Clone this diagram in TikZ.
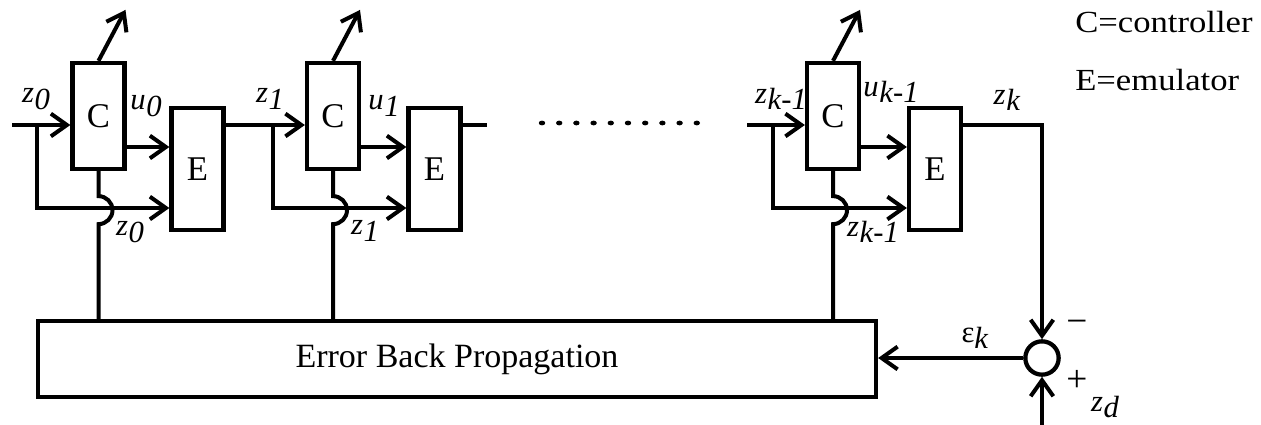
\documentclass[tikz,border=0pt]{standalone}
\usepackage{fontspec}
\setmainfont{Liberation Serif}
\usetikzlibrary{arrows.meta}

% italic symbol with a lowered, same-size index
\newcommand{\idx}[2]{\textit{#1}\kern0.5pt\raisebox{-0.2em}{\textit{#2}}}

\begin{document}
\begin{tikzpicture}[x=0.75pt,y=-0.75pt,
  wire/.style={line width=3pt},
  arr/.style={wire,-{Straight Barb[length=12pt,width=17pt]}},
  ctrlbox/.style={draw,line width=3.2pt,minimum width=39pt,minimum height=79.5pt,
    inner sep=0pt,font=\fontsize{26}{26}\selectfont},
  emubox/.style={draw,line width=3.2pt,minimum width=39pt,minimum height=91.5pt,
    inner sep=0pt,font=\fontsize{26}{26}\selectfont},
  lbl/.style={inner sep=0pt,font=\fontsize{23}{23}\selectfont},
  sign/.style={inner sep=0pt,font=\fontsize{28}{28}\selectfont},
  legend/.style={inner sep=0pt,anchor=base west,font=\fontsize{23}{23}\selectfont},
]
\useasboundingbox (0,0) rectangle (1261,425);

% controller / emulator stages
\node[ctrlbox] (C1) at (98.5,116) {C};
\node[emubox]  (E1) at (197.5,169) {E};
\node[ctrlbox] (C2) at (333,116) {C};
\node[emubox]  (E2) at (434.5,169) {E};
\node[ctrlbox] (C3) at (833,116) {C};
\node[emubox]  (E3) at (935,169) {E};

% training block and summing junction
\node[draw,line width=3.2pt,minimum width=628.5pt,minimum height=57pt,inner sep=0pt,
  font=\fontsize{25.5}{25.5}\selectfont] (EBP) at (457,359) {Error Back Propagation};
\node[draw,circle,line width=3.2pt,minimum size=25pt,inner sep=0pt] (sum) at (1042,358) {};

% signal levels and free ends
\coordinate (in1) at (12,125);
\coordinate (s1) at (37,125);
\coordinate (s2) at (273,125);
\coordinate (s3) at (773,125);
\coordinate (in3) at (747,125);
\coordinate (stub) at (487,125);
\coordinate (uy) at (0,147);
\coordinate (zy) at (0,208);
\coordinate (zd) at (1042,425);

% stage inputs
\draw[arr] (in1) -- (in1 -| C1.west);
\draw[arr] (E1.east |- s2) -- (s2 -| C2.west);
\draw[arr] (in3) -- (in3 -| C3.west);

% state fed forward to the emulators
\draw[arr] (s1) -- (s1 |- zy) -- (zy -| E1.west);
\draw[arr] (s2) -- (s2 |- zy) -- (zy -| E2.west);
\draw[arr] (s3) -- (s3 |- zy) -- (zy -| E3.west);

% control signals
\draw[arr] (C1.east |- uy) -- (uy -| E1.west);
\draw[arr] (C2.east |- uy) -- (uy -| E2.west);
\draw[arr] (C3.east |- uy) -- (uy -| E3.west);

% weight updates leaving the controllers
\draw[arr] (C1.north) -- ++(27,-51);
\draw[arr] (C2.north) -- ++(27,-51);
\draw[arr] (C3.north) -- ++(27,-51);

% back-propagation lines, hopping over the state lines
\foreach \c in {C1,C2,C3}{
  \draw[wire] (\c.south) -- ++(0,25) arc[start angle=90,end angle=-90,radius=10.5pt]
    -- (\c.south |- EBP.north);
}

% outputs
\draw[wire] (E2.east |- s2) -- (stub);
\draw[arr] (E3.east |- s3) -| (sum.north);
\draw[arr] (zd) -- (sum.south);
\draw[arr] (sum.west) -- (sum.west -| EBP.east);

% omitted stages
\foreach \i in {0,...,9}
  \fill (542+17.2*\i,123) ellipse[x radius=2.4pt,y radius=1.8pt];

% signal labels
\node[lbl] at (36,99)  {\idx{z}{0}};
\node[lbl] at (146,106) {\idx{u}{0}};
\node[lbl] at (130,232) {\idx{z}{0}};
\node[lbl] at (270,99) {\idx{z}{1}};
\node[lbl] at (384,106) {\idx{u}{1}};
\node[lbl] at (365,231) {\idx{z}{1}};
\node[lbl] at (781,99) {\idx{z}{k-1}};
\node[lbl] at (891,92) {\idx{u}{k-1}};
\node[lbl] at (873,232) {\idx{z}{k-1}};
\node[lbl] at (1007,100) {\idx{z}{k}};
\node[lbl] at (975,338) {ε\raisebox{-0.2em}{\textit{k}}};
\node[lbl] at (1105,407) {\idx{z}{d}};
\node[sign] at (1077,327) {−};
\node[sign] at (1077,381) {+};

% legend
\node[legend] at (1075,32) {\scalebox{1.13}[1]{C=controller}};
\node[legend] at (1075,90) {\scalebox{1.13}[1]{E=emulator}};
\end{tikzpicture}
\end{document}
